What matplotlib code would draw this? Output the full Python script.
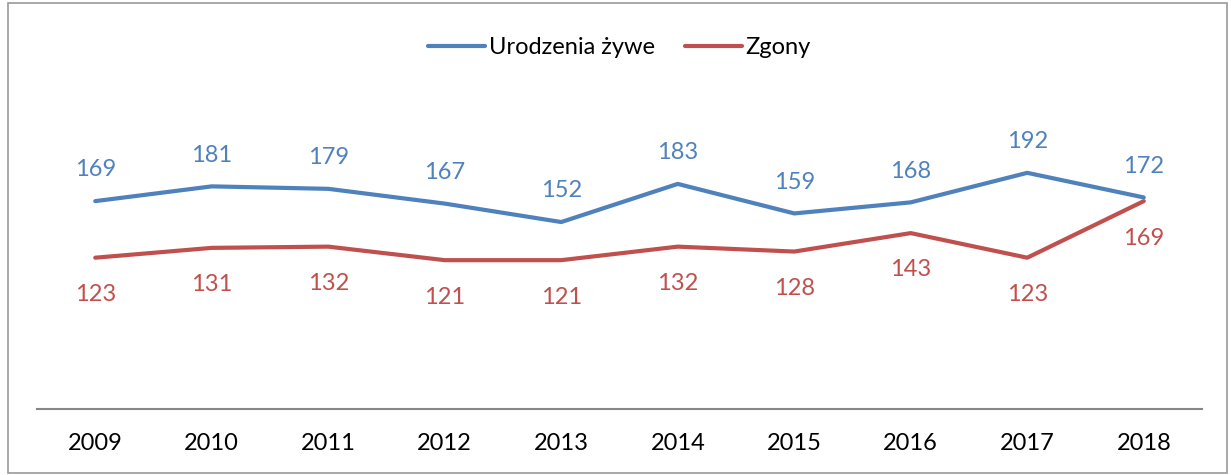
import matplotlib.pyplot as plt
from matplotlib.patches import Rectangle

plt.rcParams['font.family'] = ['Lato', 'DejaVu Sans']

years = ['2009', '2010', '2011', '2012', '2013', '2014', '2015', '2016', '2017', '2018']
births = [169, 181, 179, 167, 152, 183, 159, 168, 192, 172]
deaths = [123, 131, 132, 121, 121, 132, 128, 143, 123, 169]

blue, red = '#4F81BD', '#C0504D'

fig = plt.figure(figsize=(12.31, 4.75), dpi=100)
ax = fig.add_axes([37 / 1231, 66 / 475, 1165 / 1231, 369 / 475])
x = range(len(years))
ax.plot(x, births, color=blue, lw=3, label='Urodzenia żywe', solid_capstyle='round')
ax.plot(x, deaths, color=red, lw=3, label='Zgony', solid_capstyle='round')

for i, (b, d) in enumerate(zip(births, deaths)):
    ax.annotate(str(b), (i, b), xytext=(0, 15), textcoords='offset points',
                ha='center', va='bottom', color=blue, fontsize=17)
    ax.annotate(str(d), (i, d), xytext=(0, -19), textcoords='offset points',
                ha='center', va='top', color=red, fontsize=17)

ax.set_xlim(-0.5, len(years) - 0.5)
ax.set_ylim(0, 300)
ax.set_xticks(list(x))
ax.set_xticklabels(years, fontsize=17)
ax.tick_params(axis='x', length=0, pad=17)
ax.set_yticks([])
for s in ['top', 'right', 'left']:
    ax.spines[s].set_visible(False)
ax.spines['bottom'].set_color('#868686')
ax.spines['bottom'].set_linewidth(1.5)

ax.legend(loc='center', bbox_to_anchor=(0.5, 0.98), ncol=2, frameon=False,
          fontsize=17, handlelength=2.4, handletextpad=0.15, columnspacing=1.3)

fig.patches.append(Rectangle((8 / 1231, 2 / 475), 1219 / 1231, 470 / 475,
                             transform=fig.transFigure, fill=False,
                             edgecolor='#9a9a9a', lw=1.2))

fig.savefig('out.png', dpi=100)
